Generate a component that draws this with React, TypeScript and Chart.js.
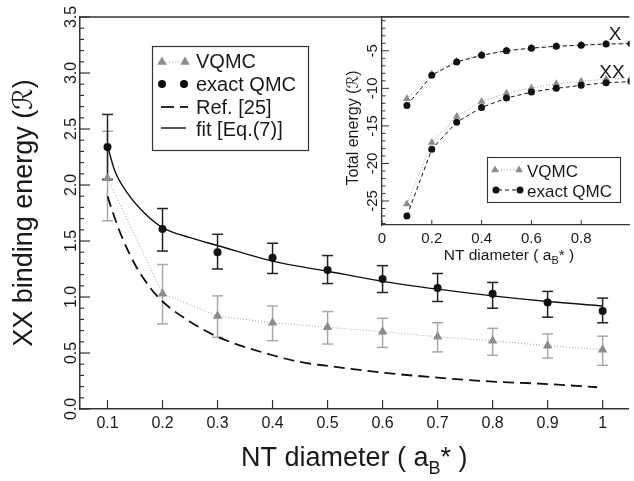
import React, { useEffect, useRef } from 'react';
import { Chart, registerables } from 'chart.js';

Chart.register(...registerables);

const FONT = '"Liberation Sans", Arial, "DejaVu Sans", sans-serif';
const TEXT = '#1a1a1a';
const AXIS = '#333333';
const GRAY_MARK = '#8c8c8c';
const GRAY_BAR = '#a8a8a8';
const GRAY_LINE = '#a0a0a0';

// ---------- main plot data ----------
const diameters = [0.1, 0.2, 0.3, 0.4, 0.5, 0.6, 0.7, 0.8, 0.9, 1.0];
const vqmcBinding = [2.06, 1.03, 0.83, 0.77, 0.73, 0.69, 0.645, 0.61, 0.565, 0.53];
const vqmcErrHigh = [2.48, 1.29, 1.01, 0.92, 0.87, 0.81, 0.77, 0.72, 0.67, 0.65];
const vqmcErrLow = [1.68, 0.76, 0.64, 0.61, 0.58, 0.55, 0.51, 0.48, 0.455, 0.39];
const exactBinding = [2.34, 1.607, 1.40, 1.35, 1.24, 1.16, 1.08, 1.03, 0.95, 0.875];
const exactErrHigh = [2.63, 1.79, 1.56, 1.48, 1.37, 1.28, 1.21, 1.13, 1.05, 0.99];
const exactErrLow = [2.05, 1.41, 1.25, 1.21, 1.12, 1.04, 0.96, 0.90, 0.82, 0.77];
const fitX = [0.1, 0.113, 0.136, 0.167, 0.2, 0.25, 0.3, 0.4, 0.5, 0.6, 0.7, 0.8, 0.9, 1.0];
const fitY = [2.35, 2.13, 1.93, 1.75, 1.62, 1.53, 1.46, 1.32, 1.23, 1.14, 1.07, 1.01, 0.96, 0.92];
const refX = [0.1, 0.11, 0.125, 0.15, 0.175, 0.2, 0.25, 0.3, 0.4, 0.45, 0.5, 0.6, 0.7, 0.8, 0.9, 0.99];
const refY = [1.90, 1.75, 1.55, 1.29, 1.10, 0.96, 0.78, 0.645, 0.48, 0.42, 0.385, 0.325, 0.28, 0.245, 0.223, 0.194];
const mainXTicks = [0.1, 0.2, 0.3, 0.4, 0.5, 0.6, 0.7, 0.8, 0.9, 1.0];
const mainXTickLabels = ['0.1', '0.2', '0.3', '0.4', '0.5', '0.6', '0.7', '0.8', '0.9', '1'];
const mainYTicks = [0, 0.5, 1.0, 1.5, 2.0, 2.5, 3.0, 3.5];
const mainYTickLabels = ['0.0', '0.5', '1.0', '1.5', '2.0', '2.5', '3.0', '3.5'];
const mainLegendLabels = ['VQMC', 'exact QMC', 'Ref. [25]', 'fit [Eq.(7)]'];

// ---------- inset data ----------
const insetXExact = [-12.3, -8.25, -6.5, -5.6, -5.0, -4.65, -4.4, -4.25, -4.1, -4.05];
const insetXVqmc = [-11.4, -8.1, -6.4, -5.5, -4.95, -4.6, -4.35, -4.2, -4.05, -4.0];
const insetXXExact = [-27.0, -18.1, -14.5, -12.55, -11.3, -10.5, -10.0, -9.6, -9.25, -9.1];
const insetXXVqmc = [-25.4, -17.2, -13.75, -11.75, -10.65, -9.95, -9.4, -9.05, -8.8, -8.6];
const insetXTicks = [0, 0.2, 0.4, 0.6, 0.8];
const insetXTickLabels = ['0', '0.2', '0.4', '0.6', '0.8'];
const insetYTicks = [-25, -20, -15, -10, -5];
const insetYTickLabels = ['-25', '-20', '-15', '-10', '-5'];
const insetLegendLabels = ['VQMC', 'exact QMC'];

const pts = (xs: number[], ys: number[]) => xs.map((x, i) => ({ x, y: ys[i] }));

function triangle(ctx: CanvasRenderingContext2D, x: number, y: number, r: number, color: string) {
  ctx.save();
  ctx.fillStyle = color;
  ctx.beginPath();
  let rad = 0;
  ctx.moveTo(x + Math.sin(rad) * r, y - Math.cos(rad) * r);
  rad += (2 * Math.PI) / 3;
  ctx.lineTo(x + Math.sin(rad) * r, y - Math.cos(rad) * r);
  rad += (2 * Math.PI) / 3;
  ctx.lineTo(x + Math.sin(rad) * r, y - Math.cos(rad) * r);
  ctx.closePath();
  ctx.fill();
  ctx.restore();
}
function circle(ctx: CanvasRenderingContext2D, x: number, y: number, r: number, color: string) {
  ctx.save();
  ctx.fillStyle = color;
  ctx.beginPath();
  ctx.arc(x, y, r, 0, Math.PI * 2);
  ctx.fill();
  ctx.restore();
}
function seg(ctx: CanvasRenderingContext2D, x1: number, y1: number, x2: number, y2: number) {
  ctx.beginPath();
  ctx.moveTo(x1, y1);
  ctx.lineTo(x2, y2);
  ctx.stroke();
}
function rotText(ctx: CanvasRenderingContext2D, text: string, x: number, y: number, font: string) {
  ctx.save();
  ctx.translate(x, y);
  ctx.rotate(-Math.PI / 2);
  ctx.font = font;
  ctx.fillStyle = TEXT;
  ctx.textAlign = 'center';
  ctx.textBaseline = 'alphabetic';
  ctx.fillText(text, 0, 0);
  ctx.restore();
}
function subTitle(ctx: CanvasRenderingContext2D, cx: number, baseline: number, size: number) {
  const big = `${size}px ${FONT}`;
  const small = `${Math.round(size * 0.68)}px ${FONT}`;
  const a = 'NT diameter ( a';
  const b = 'B';
  const c = '* )';
  ctx.save();
  ctx.fillStyle = TEXT;
  ctx.textBaseline = 'alphabetic';
  ctx.textAlign = 'left';
  ctx.font = big;
  const wa = ctx.measureText(a).width;
  const wc = ctx.measureText(c).width;
  ctx.font = small;
  const wb = ctx.measureText(b).width;
  let x = cx - (wa + wb + wc) / 2;
  ctx.font = big;
  ctx.fillText(a, x, baseline);
  x += wa;
  ctx.font = small;
  ctx.fillText(b, x, baseline + size * 0.28);
  x += wb;
  ctx.font = big;
  ctx.fillText(c, x, baseline);
  ctx.restore();
}

const mainPlugin = {
  id: 'mainDecor',
  beforeDatasetsDraw(chart: any) {
    const { ctx, scales } = chart;
    const xs = scales.x;
    const ys = scales.y;
    const cap = 5.5;
    const drawBars = (hi: number[], lo: number[], color: string) => {
      ctx.save();
      ctx.strokeStyle = color;
      ctx.lineWidth = 1.5;
      diameters.forEach((d, i) => {
        const px = xs.getPixelForValue(d);
        const pt = ys.getPixelForValue(hi[i]);
        const pb = ys.getPixelForValue(lo[i]);
        seg(ctx, px, pt, px, pb);
        seg(ctx, px - cap, pt, px + cap, pt);
        seg(ctx, px - cap, pb, px + cap, pb);
      });
      ctx.restore();
    };
    drawBars(vqmcErrHigh, vqmcErrLow, GRAY_BAR);
    drawBars(exactErrHigh, exactErrLow, '#222');
  },
  afterDraw(chart: any) {
    const { ctx, chartArea, scales } = chart;
    const { left, top, right, bottom } = chartArea;
    const xs = scales.x;
    const ys = scales.y;
    ctx.save();
    ctx.strokeStyle = AXIS;
    ctx.lineWidth = 1.5;
    seg(ctx, left, top, right, top);
    ctx.lineWidth = 1.2;
    ctx.font = `16px ${FONT}`;
    ctx.fillStyle = TEXT;
    ctx.textAlign = 'center';
    ctx.textBaseline = 'alphabetic';
    mainXTicks.forEach((v, i) => {
      const px = xs.getPixelForValue(v);
      seg(ctx, px, bottom, px, bottom - 9);
      ctx.fillText(mainXTickLabels[i], px, 428);
    });
    for (let k = 0; k <= 35; k++) {
      const py = ys.getPixelForValue(k / 10);
      const len = k % 5 === 0 ? 10 : 4;
      seg(ctx, left, py, left + len, py);
    }
    mainYTicks.forEach((v, i) => {
      rotText(ctx, mainYTickLabels[i], 76, ys.getPixelForValue(v), `16px ${FONT}`);
    });
    subTitle(ctx, (left + right) / 2, 466, 27);
    rotText(ctx, 'XX binding energy (\u211B)', 32, (top + bottom) / 2, `27px ${FONT}`);

    const bx = 152.5, by = 46.5, bw = 156, bh = 104;
    ctx.fillStyle = '#ffffff';
    ctx.fillRect(bx, by, bw, bh);
    ctx.strokeStyle = AXIS;
    ctx.lineWidth = 1.2;
    ctx.strokeRect(bx, by, bw, bh);
    const baselines = [68, 91, 113.5, 136];
    const symY = [62, 84, 107, 128];
    ctx.font = `20px ${FONT}`;
    ctx.fillStyle = TEXT;
    ctx.textAlign = 'left';
    mainLegendLabels.forEach((t, i) => ctx.fillText(t, 196, baselines[i]));
    ctx.save();
    ctx.strokeStyle = GRAY_LINE;
    ctx.lineWidth = 1;
    ctx.setLineDash([1, 2]);
    seg(ctx, 166, symY[0], 181, symY[0]);
    ctx.restore();
    triangle(ctx, 162, symY[0], 5.5, GRAY_MARK);
    triangle(ctx, 185, symY[0], 5.5, GRAY_MARK);
    circle(ctx, 162, symY[1], 4, '#111');
    circle(ctx, 184, symY[1], 4, '#111');
    ctx.strokeStyle = '#111';
    ctx.lineWidth = 1.8;
    seg(ctx, 161, symY[2], 174, symY[2]);
    seg(ctx, 180, symY[2], 188, symY[2]);
    ctx.lineWidth = 1.4;
    seg(ctx, 161, symY[3], 186, symY[3]);
    ctx.restore();
  },
};

const insetPlugin = {
  id: 'insetDecor',
  beforeDraw(chart: any) {
    const { ctx, chartArea } = chart;
    const { left, top, right, bottom } = chartArea;
    ctx.save();
    ctx.fillStyle = '#ffffff';
    ctx.fillRect(left, top, right - left, bottom - top);
    ctx.restore();
  },
  afterDraw(chart: any) {
    const { ctx, chartArea, scales } = chart;
    const { left, top, right, bottom } = chartArea;
    const xs = scales.x;
    const ys = scales.y;
    ctx.save();
    ctx.strokeStyle = AXIS;
    ctx.lineWidth = 1.3;
    seg(ctx, left, top, right, top);
    ctx.lineWidth = 1;
    ctx.font = `15px ${FONT}`;
    ctx.fillStyle = TEXT;
    ctx.textAlign = 'center';
    ctx.textBaseline = 'alphabetic';
    insetXTicks.forEach((v, i) => {
      const px = xs.getPixelForValue(v);
      seg(ctx, px, bottom, px, bottom - 5);
      ctx.fillText(insetXTickLabels[i], px, 243);
    });
    for (let k = -28; k <= -1; k++) {
      const py = ys.getPixelForValue(k);
      const len = k % 5 === 0 ? 7 : 3.5;
      seg(ctx, left, py, left + len, py);
    }
    insetYTicks.forEach((v, i) => {
      rotText(ctx, insetYTickLabels[i], 37, ys.getPixelForValue(v), `15px ${FONT}`);
    });
    subTitle(ctx, 169, 260, 15.5);
    rotText(ctx, 'Total energy (\u211B)', 18, 128, `16px ${FONT}`);

    ctx.font = `19px ${FONT}`;
    ctx.fillStyle = TEXT;
    ctx.textAlign = 'center';
    ctx.fillText('X', 275, 40);
    ctx.fillText('XX', 272, 78);

    const bx = 147.5, by = 157.5, bw = 133, bh = 45;
    ctx.fillStyle = '#ffffff';
    ctx.fillRect(bx, by, bw, bh);
    ctx.strokeStyle = AXIS;
    ctx.lineWidth = 1.1;
    ctx.strokeRect(bx, by, bw, bh);
    ctx.font = `17px ${FONT}`;
    ctx.fillStyle = TEXT;
    ctx.textAlign = 'left';
    ctx.fillText(insetLegendLabels[0], 187, 177);
    ctx.fillText(insetLegendLabels[1], 187, 197);
    ctx.save();
    ctx.strokeStyle = GRAY_LINE;
    ctx.lineWidth = 1;
    ctx.setLineDash([1, 2]);
    seg(ctx, 158, 170, 176, 170);
    ctx.restore();
    triangle(ctx, 155, 170, 4.5, GRAY_MARK);
    triangle(ctx, 179, 170, 4.5, GRAY_MARK);
    ctx.save();
    ctx.strokeStyle = '#111';
    ctx.lineWidth = 1;
    ctx.setLineDash([4, 3]);
    seg(ctx, 158, 190, 178, 190);
    ctx.restore();
    circle(ctx, 156, 190, 3.5, '#111');
    circle(ctx, 180, 190, 3.5, '#111');
    ctx.restore();
  },
};

export default function App() {
  const mainRef = useRef<HTMLCanvasElement>(null);
  const insetRef = useRef<HTMLCanvasElement>(null);

  useEffect(() => {
    if (!mainRef.current || !insetRef.current) return;
    const main = new Chart(mainRef.current, {
      type: 'line',
      data: {
        datasets: [
          {
            label: 'exact QMC',
            data: pts(diameters, exactBinding),
            showLine: false,
            pointStyle: 'circle',
            pointRadius: 4,
            pointBackgroundColor: '#111',
            pointBorderColor: '#111',
            pointBorderWidth: 0,
            borderColor: '#111',
          },
          {
            label: 'VQMC',
            data: pts(diameters, vqmcBinding),
            borderColor: GRAY_LINE,
            borderWidth: 1,
            borderDash: [1, 2],
            pointStyle: 'triangle',
            pointRadius: 5.5,
            pointBackgroundColor: GRAY_MARK,
            pointBorderColor: GRAY_MARK,
            pointBorderWidth: 0,
            tension: 0,
          },
          {
            label: 'fit',
            data: pts(fitX, fitY),
            borderColor: '#111',
            borderWidth: 1.4,
            pointRadius: 0,
            cubicInterpolationMode: 'monotone',
          },
          {
            label: 'Ref. [25]',
            data: pts(refX, refY),
            borderColor: '#111',
            borderWidth: 1.8,
            borderDash: [11, 6],
            pointRadius: 0,
            cubicInterpolationMode: 'monotone',
          },
        ],
      },
      options: {
        animation: false,
        responsive: false,
        devicePixelRatio: 1,
        layout: { padding: { top: 17, right: 0, left: 0, bottom: 0 } },
        plugins: { legend: { display: false }, tooltip: { enabled: false } },
        scales: {
          x: {
            type: 'linear',
            min: 0.05,
            max: 1.047,
            grid: { display: false, drawTicks: false },
            border: { display: true, color: AXIS, width: 1.5 },
            ticks: { display: false },
            afterFit: (s: any) => { s.height = 72; },
          },
          y: {
            type: 'linear',
            min: 0,
            max: 3.5,
            grid: { display: false, drawTicks: false },
            border: { display: true, color: AXIS, width: 1.5 },
            ticks: { display: false },
            afterFit: (s: any) => { s.width = 80; },
          },
        },
      } as any,
      plugins: [mainPlugin],
    });

    const inset = new Chart(insetRef.current, {
      type: 'line',
      data: {
        datasets: [
          {
            label: 'X exact',
            data: pts(diameters, insetXExact),
            borderColor: '#111',
            borderWidth: 1,
            borderDash: [4, 3],
            pointRadius: 3.5,
            pointBackgroundColor: '#111',
            pointBorderWidth: 0,
          },
          {
            label: 'XX exact',
            data: pts(diameters, insetXXExact),
            borderColor: '#111',
            borderWidth: 1,
            borderDash: [4, 3],
            pointRadius: 3.5,
            pointBackgroundColor: '#111',
            pointBorderWidth: 0,
          },
          {
            label: 'X VQMC',
            data: pts(diameters, insetXVqmc),
            borderColor: GRAY_LINE,
            borderWidth: 1,
            borderDash: [1, 2],
            pointStyle: 'triangle',
            pointRadius: 4.5,
            pointBackgroundColor: GRAY_MARK,
            pointBorderWidth: 0,
          },
          {
            label: 'XX VQMC',
            data: pts(diameters, insetXXVqmc),
            borderColor: GRAY_LINE,
            borderWidth: 1,
            borderDash: [1, 2],
            pointStyle: 'triangle',
            pointRadius: 4.5,
            pointBackgroundColor: GRAY_MARK,
            pointBorderWidth: 0,
          },
        ],
      },
      options: {
        animation: false,
        responsive: false,
        devicePixelRatio: 1,
        layout: { padding: { top: 17, right: 0, left: 0, bottom: 0 } },
        plugins: { legend: { display: false }, tooltip: { enabled: false } },
        scales: {
          x: {
            type: 'linear',
            min: 0,
            max: 0.994,
            grid: { display: false, drawTicks: false },
            border: { display: true, color: AXIS, width: 1.3 },
            ticks: { display: false },
            afterFit: (s: any) => { s.height = 40; },
          },
          y: {
            type: 'linear',
            min: -28.2,
            max: -0.5,
            grid: { display: false, drawTicks: false },
            border: { display: true, color: AXIS, width: 1.3 },
            ticks: { display: false },
            afterFit: (s: any) => { s.width = 42; },
          },
        },
      } as any,
      plugins: [insetPlugin],
    });

    return () => {
      main.destroy();
      inset.destroy();
    };
  }, []);

  return (
    <div style={{ position: 'absolute', left: 0, top: 0, width: 634, height: 481, background: '#fff', overflow: 'hidden' }}>
      <canvas ref={mainRef} width={634} height={481} style={{ position: 'absolute', left: 0, top: 0, width: 634, height: 481 }} />
      <canvas ref={insetRef} width={294} height={265} style={{ position: 'absolute', left: 340, top: 0, width: 294, height: 265 }} />
    </div>
  );
}
